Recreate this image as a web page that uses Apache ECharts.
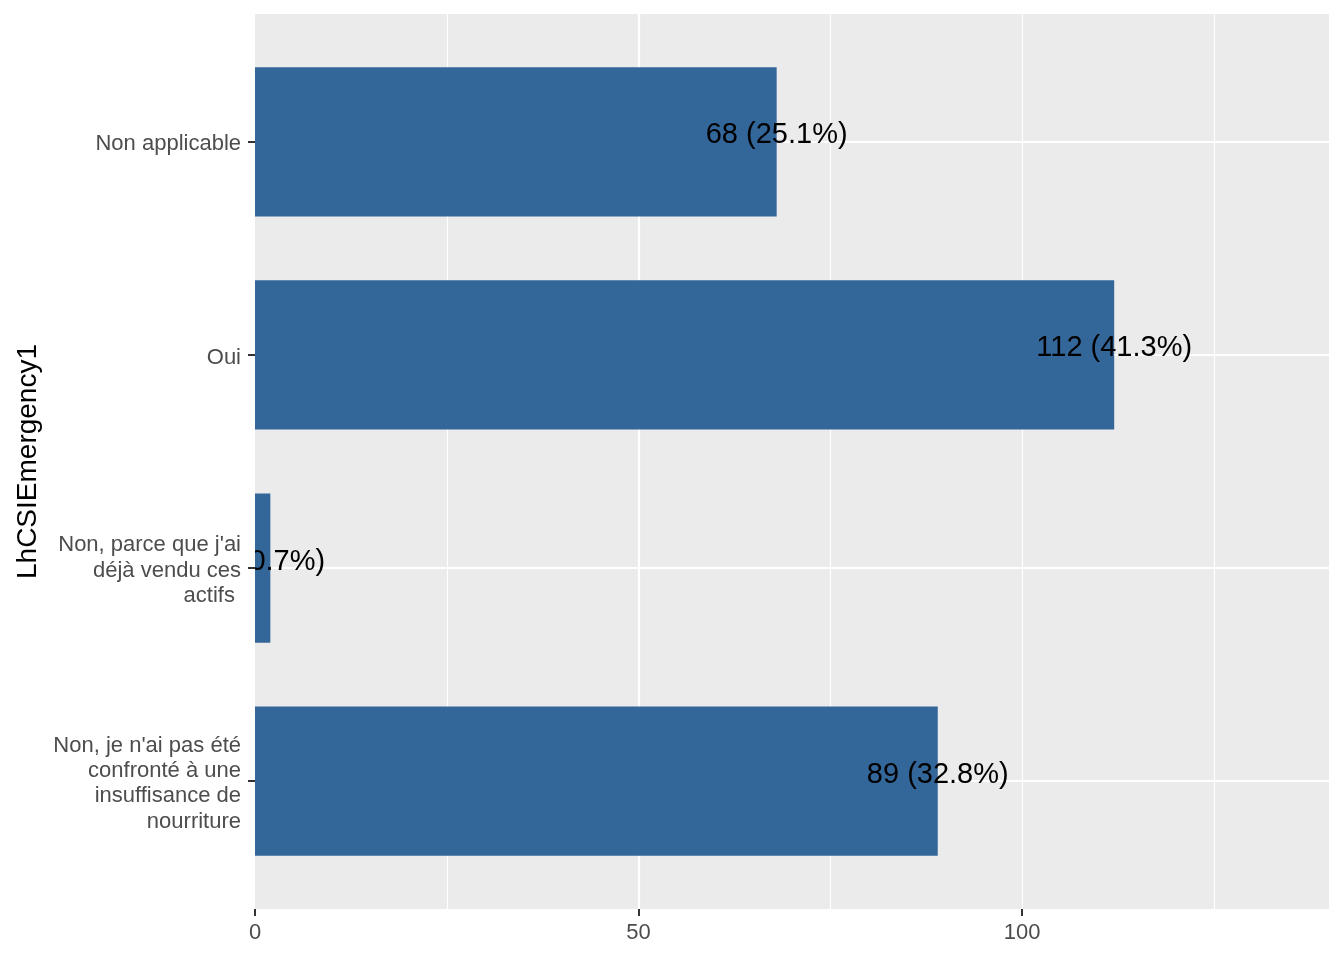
<!DOCTYPE html>
<html>
<head>
<meta charset="utf-8">
<script src="https://cdn.jsdelivr.net/npm/echarts@6/dist/echarts.min.js"></script>
<style>
html,body{margin:0;padding:0;background:#fff;}
#c{width:1344px;height:960px;}
</style>
</head>
<body>
<div id="c"></div>
<script>
var categories = ["Non applicable", "Oui", "Non, parce que j'ai\ndéjà vendu ces\nactifs ", "Non, je n'ai pas été\nconfronté à une\ninsuffisance de\nnourriture"];
var counts = [68, 112, 2, 89];
var labels = ["68 (25.1%)", "112 (41.3%)", "2 (0.7%)", "89 (32.8%)"];
var xTicks = [0, 50, 100];
var axisTitle = "LhCSIEmergency1";

var FONT = "Liberation Sans";
var panelLeft = 255, panelTop = 14, panelW = 1074, panelH = 895;
var unit = panelH / (categories.length - 1 + 1.2);
var g1Top = panelTop + 0.6 * unit;
var g1H = (categories.length - 1) * unit;

var labelData = counts.map(function (v, i) { return [v, i, labels[i]]; });

var chart = echarts.init(document.getElementById('c'), null, {renderer: 'canvas'});
chart.setOption({
  animation: false,
  backgroundColor: '#ffffff',
  grid: [
    {left: panelLeft, top: panelTop, width: panelW, height: panelH, show: true, backgroundColor: '#EBEBEB', borderWidth: 0, containLabel: false},
    {left: panelLeft, top: g1Top, width: panelW, height: g1H, show: false, containLabel: false}
  ],
  xAxis: [
    {
      gridIndex: 0, type: 'value', min: 0, max: 140, interval: 50, position: 'bottom',
      axisLine: {show: false, onZero: false},
      axisTick: {show: true, length: 7, lineStyle: {color: '#333333', width: 2}, customValues: xTicks},
      axisLabel: {show: true, margin: 13, fontFamily: FONT, fontSize: 22, color: '#4D4D4D',
        customValues: xTicks},
      splitLine: {show: true, showMinLine: false, showMaxLine: false, lineStyle: {color: '#FFFFFF', width: 2.2}}
    },
    {
      gridIndex: 0, type: 'value', min: 0, max: 140, interval: 25, position: 'top',
      axisLine: {show: false, onZero: false}, axisTick: {show: false}, axisLabel: {show: false},
      splitLine: {show: true, showMinLine: false, showMaxLine: false, lineStyle: {color: '#FFFFFF', width: 1.1}}
    },
    {
      gridIndex: 1, type: 'value', min: 0, max: 140, show: false,
      axisLine: {show: false, onZero: false}, axisTick: {show: false}, axisLabel: {show: false},
      splitLine: {show: false}
    }
  ],
  yAxis: [
    {gridIndex: 0, type: 'value', min: -0.6, max: 3.6, inverse: true, show: false,
      axisLine: {show: false, onZero: false}, axisTick: {show: false}, axisLabel: {show: false}, splitLine: {show: false}},
    {
      gridIndex: 1, type: 'category', data: categories, inverse: true, boundaryGap: false,
      axisLine: {show: false, onZero: false},
      axisTick: {show: true, length: 7, lineStyle: {color: '#333333', width: 2}},
      axisLabel: {show: true, margin: 14, fontFamily: FONT, fontSize: 22, color: '#4D4D4D', align: 'right',
        formatter: function (v) { return '{t|' + v.split('\n').join('}\n{t|') + '}'; },
        rich: {t: {fontFamily: FONT, fontSize: 22, color: '#4D4D4D', lineHeight: 25.3, align: 'right', padding: [5, 0, 0, 0]}}},
      splitLine: {show: true, lineStyle: {color: '#FFFFFF', width: 2.2}},
      name: axisTitle, nameLocation: 'middle', nameRotate: 90, nameGap: 213,
      nameTextStyle: {fontFamily: FONT, fontSize: 28, color: '#000000'}
    }
  ],
  series: [
    {
      type: 'bar', xAxisIndex: 2, yAxisIndex: 1, data: counts, barWidth: unit * 0.7,
      itemStyle: {color: '#336699'}, clip: false, z: 3
    },
    {
      type: 'custom', xAxisIndex: 0, yAxisIndex: 0, data: labelData, clip: true, z: 4,
      renderItem: function (params, api) {
        var p = api.coord([api.value(0), api.value(1)]);
        return {
          type: 'text',
          x: p[0], y: p[1] + 8,
          style: {text: labelData[params.dataIndex][2], fontFamily: FONT, fontSize: 29, fill: '#000000', align: 'center', verticalAlign: 'bottom'}
        };
      }
    }
  ]
});
</script>
</body>
</html>
